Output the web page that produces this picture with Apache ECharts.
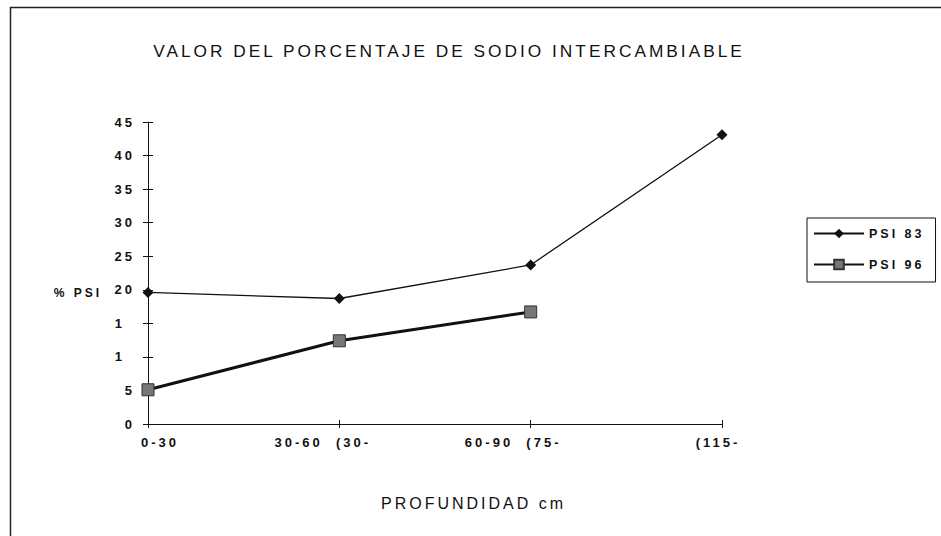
<!DOCTYPE html>
<html>
<head>
<meta charset="utf-8">
<title>Valor del porcentaje de sodio intercambiable</title>
<script src="https://cdn.jsdelivr.net/npm/echarts@6/dist/echarts.min.js"></script>
<style>
  html, body { margin: 0; padding: 0; background: #fff; }
  #chart { width: 941px; height: 536px; }
  /* el original escaneado tiene las letras muy separadas */
  #chart text { letter-spacing: 3px; }
</style>
</head>
<body>
<div id="chart"></div>
<script>
// datos
var profundidad = ['0-30', '30-60  (30-', '60-90  (75-', '(115-'];
var psi83 = [19.6, 18.7, 23.7, 43.1];
var psi96 = [5.1, 12.4, 16.7, null];
var yTicks = [0, 5, 10, 15, 20, 25, 30, 35, 40, 45];
var yTickLabels = ['0', '5', '1', '1', '20', '25', '30', '35', '40', '45'];

var negro = '#111';
var fuente = 'Liberation Sans, Arial, sans-serif';

// desplazamiento de cada etiqueta del eje x (como en el original)
var richX = {
  l0: { padding: [0, 0, 0, 24] },
  l1: { padding: [0, 33, 0, 0] },
  l2: { padding: [0, 35, 0, 0] },
  l3: { padding: [0, 8, 0, 0] }
};
Object.keys(richX).forEach(function (k) {
  richX[k].fontFamily = fuente;
  richX[k].fontSize = 13;
  richX[k].fontWeight = 'bold';
  richX[k].color = negro;
});

var chart = echarts.init(document.getElementById('chart'), null, { renderer: 'svg' });

chart.setOption({
  animation: false,
  backgroundColor: '#fff',
  title: {
    text: 'VALOR DEL PORCENTAJE DE SODIO INTERCAMBIABLE',
    left: 444,
    top: 37,
    textAlign: 'center',
    textStyle: { fontFamily: fuente, fontSize: 17.3, fontWeight: 'normal', color: negro }
  },
  legend: {
    orient: 'vertical',
    left: 807,
    top: 218,
    borderColor: negro,
    borderWidth: 1,
    padding: [9, 29, 11, 6],
    itemWidth: 50,
    itemHeight: 12,
    itemGap: 18,
    textStyle: { fontFamily: fuente, fontSize: 12.5, fontWeight: 'bold', color: negro },
    data: ['PSI 83', 'PSI 96']
  },
  grid: { left: 148, right: 219, top: 122, bottom: 112 },
  graphic: [{
    // marco del escaneo
    type: 'polyline',
    shape: { points: [[10.5, 536], [10.5, 7.5], [941, 7.5]] },
    style: { stroke: '#222', lineWidth: 1.5, fill: null }
  }, {
    // titulo del eje y, a la altura del 20
    type: 'text',
    style: {
      x: 102,
      y: 293,
      align: 'right',
      verticalAlign: 'middle',
      text: '% PSI',
      font: 'bold 12px Liberation Sans, Arial, sans-serif',
      fill: negro
    }
  }],
  xAxis: [{
    type: 'category',
    position: 'bottom',
    boundaryGap: false,
    data: profundidad,
    name: 'PROFUNDIDAD cm',
    nameLocation: 'middle',
    nameGap: 71,
    nameTextStyle: { fontFamily: fuente, fontSize: 16, color: negro, padding: [0, 0, 0, 77] },
    axisLine: { lineStyle: { color: negro, width: 1 } },
    axisTick: { length: 4, lineStyle: { color: negro } },
    axisLabel: {
      interval: 0,
      margin: 12,
      formatter: function (v, i) { return '{l' + i + '|' + v + '}'; },
      rich: richX
    },
    splitLine: { show: false }
  }, {
    // marcas hacia adentro para que crucen el eje
    type: 'category',
    position: 'bottom',
    boundaryGap: false,
    data: profundidad,
    axisLine: { show: false },
    axisTick: { inside: true, length: 4, lineStyle: { color: negro } },
    axisLabel: { show: false },
    splitLine: { show: false }
  }],
  yAxis: [{
    type: 'value',
    position: 'left',
    min: yTicks[0],
    max: yTicks[yTicks.length - 1],
    interval: yTicks[1] - yTicks[0],
    axisLine: { show: true, lineStyle: { color: negro, width: 1 } },
    axisTick: { show: true, length: 5, lineStyle: { color: negro } },
    axisLabel: {
      margin: 13,
      formatter: function (v) {
        var t = yTickLabels[yTicks.indexOf(v)];
        return t === '1' ? '{u|' + t + '}' : '{n|' + t + '}';
      },
      rich: {
        n: { fontFamily: fuente, fontSize: 13, fontWeight: 'bold', color: negro },
        u: { fontFamily: fuente, fontSize: 13, fontWeight: 'bold', color: negro, padding: [0, 10, 0, 0] }
      }
    },
    splitLine: { show: false }
  }, {
    type: 'value',
    position: 'left',
    min: yTicks[0],
    max: yTicks[yTicks.length - 1],
    interval: yTicks[1] - yTicks[0],
    axisLine: { show: false },
    axisTick: { show: true, inside: true, length: 5, lineStyle: { color: negro } },
    axisLabel: { show: false },
    splitLine: { show: false }
  }],
  series: [{
    name: 'PSI 83',
    type: 'line',
    data: psi83,
    symbol: 'diamond',
    symbolSize: 11,
    lineStyle: { color: negro, width: 1.3 },
    itemStyle: { color: negro }
  }, {
    name: 'PSI 96',
    type: 'line',
    data: psi96,
    symbol: 'rect',
    symbolSize: 12,
    lineStyle: { color: negro, width: 3 },
    itemStyle: { color: '#777', borderColor: '#333', borderWidth: 1 }
  }]
});
</script>
</body>
</html>
